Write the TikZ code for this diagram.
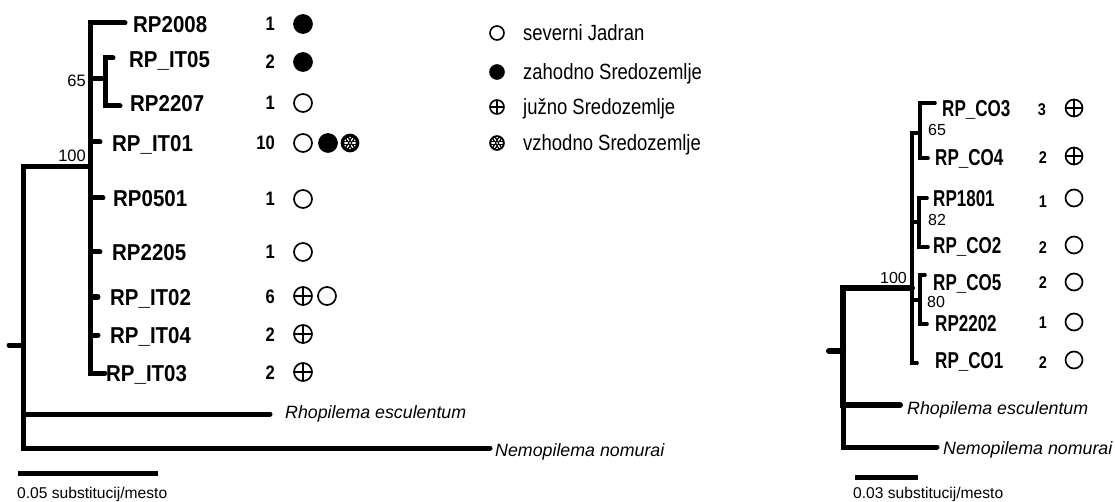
\documentclass[tikz,border=0pt]{standalone}
\usepackage{fontspec}
\setmainfont{Liberation Sans}
\newfontfamily\lblfont[FakeStretch=0.89]{Liberation Sans}
\newfontfamily\cntfont[FakeStretch=0.85]{Liberation Sans}
\newfontfamily\legfont[FakeStretch=0.84]{Liberation Sans}
\newfontfamily\narrowfont[FakeStretch=0.74]{Liberation Sans}
\tikzset{
  treeL/.style={line width=5pt,line cap=round,line join=miter},
  treeR/.style={line width=3.6pt,line cap=round,line join=miter},
  treeRthick/.style={line width=6pt,line cap=round,line join=miter},
  scalebar/.style={line width=5pt},
  leafL/.style={anchor=base west,inner sep=0pt,font=\lblfont\bfseries\fontsize{23}{25}\selectfont},
  leafR/.style={anchor=base west,inner sep=0pt,font=\narrowfont\bfseries\fontsize{23}{25}\selectfont},
  countL/.style={anchor=base east,inner sep=0pt,font=\cntfont\bfseries\fontsize{19.5}{21}\selectfont},
  countR/.style={anchor=base east,inner sep=0pt,font=\cntfont\bfseries\fontsize{17}{19}\selectfont},
  bootL/.style={inner sep=0pt,font=\fontsize{16.5}{18}\selectfont},
  bootR/.style={inner sep=0pt,font=\fontsize{16}{18}\selectfont},
  species/.style={anchor=base west,inner sep=0pt,font=\itshape\fontsize{17.8}{19}\selectfont},
  scaletext/.style={anchor=base west,inner sep=0pt,font=\fontsize{15.6}{17}\selectfont},
  legtext/.style={anchor=base west,inner sep=0pt,font=\legfont\fontsize{22}{24}\selectfont},
  sym/.style={circle,inner sep=0pt,minimum size=18pt,line width=1.7pt,draw},
  opensym/.style={sym},
  fillsym/.style={sym,fill=black},
  plussym/.style={sym,path picture={\draw[line width=1.7pt]
      (path picture bounding box.north) -- (path picture bounding box.south)
      (path picture bounding box.west) -- (path picture bounding box.east);}},
  hatchsym/.style={sym,fill=black,path picture={
      \begin{scope}[shift={(path picture bounding box.center)}]
        \foreach \a in {0,60,...,300}{\draw[white,line width=1.2pt,line cap=round] (\a:2.6pt) -- (\a:5.2pt);}
        \foreach \a in {30,90,...,330}{\fill[white] (\a:5.4pt) circle (0.9pt);}
        \fill[white] (0,0) circle (1pt);
      \end{scope}}},
  legsym/.style={minimum size=14pt,line width=1.6pt},
}
\begin{document}
\begin{tikzpicture}[x=1pt,y=-1pt]
\useasboundingbox (0,0) rectangle (1115,502);

% ---------------- left tree ----------------
\coordinate (Lstub) at (9,345);
\coordinate (Lroot) at (23,345);
\coordinate (LA) at (90,167);
\coordinate (L65) at (105,79);
\coordinate (Lrho) at (270,414);
\coordinate (Lnem) at (490,448);
\coordinate (t2008) at (125,23);
\coordinate (tIT05) at (113,58);
\coordinate (t2207) at (120,106);
\coordinate (tIT01) at (100,142);
\coordinate (t0501) at (103,198);
\coordinate (t2205) at (100,252);
\coordinate (tIT02) at (98,297);
\coordinate (tIT04) at (98,335);
\coordinate (tIT03) at (105,373);

\draw[treeL] (Lstub) -- (Lroot);
\draw[treeL] (Lroot) |- (LA);
\draw[treeL] (Lroot) |- (Lrho);
\draw[treeL] (Lroot) |- (Lnem);
\foreach \t in {t2008,L65,tIT01,t0501,t2205,tIT02,tIT04,tIT03}{\draw[treeL] (LA) |- (\t);}
\draw[treeL] (L65) |- (tIT05);
\draw[treeL] (L65) |- (t2207);

\node[bootL,anchor=base east] (b65L) at (86,87) {65};
\node[bootL,anchor=base east] (b100L) at (86,162) {100};

\node[leafL] (l2008) at (133,32.2) {RP2008};
\node[leafL] (lIT05) at (129,67.2) {RP\_IT05};
\node[leafL] (l2207) at (130,111.2) {RP2207};
\node[leafL] (lIT01) at (112,151.2) {RP\_IT01};
\node[leafL] (l0501) at (113,206.2) {RP0501};
\node[leafL] (l2205) at (112,260.2) {RP2205};
\node[leafL] (lIT02) at (110,305.2) {RP\_IT02};
\node[leafL] (lIT04) at (110,343.2) {RP\_IT04};
\node[leafL] (lIT03) at (106,381.2) {RP\_IT03};

\node[species] (sRhoL) at (285,418.4) {Rhopilema esculentum};
\node[species] (sNemL) at (495,456.4) {Nemopilema nomurai};

\node[countL] (c1) at (275,31) {1};
\node[countL] (c2) at (275,69) {2};
\node[countL] (c3) at (275,110) {1};
\node[countL] (c4) at (275,150) {10};
\node[countL] (c5) at (275,206) {1};
\node[countL] (c6) at (275,259) {1};
\node[countL] (c7) at (275,304) {6};
\node[countL] (c8) at (275,341) {2};
\node[countL] (c9) at (275,379) {2};

\node[fillsym] (s1) at (303,24) {};
\node[fillsym] (s2) at (303,62) {};
\node[opensym] (s3) at (303,103) {};
\node[opensym] (s4a) at (303,143) {};
\node[fillsym] (s4b) at (328,143) {};
\node[hatchsym,minimum size=17pt] (s4c) at (350,143) {};
\node[opensym] (s5) at (303,199) {};
\node[opensym] (s6) at (303,252) {};
\node[plussym] (s7a) at (303,296) {};
\node[opensym] (s7b) at (327,296) {};
\node[plussym] (s8) at (303,334) {};
\node[plussym] (s9) at (303,372) {};

\coordinate (sbL1) at (18,473);
\coordinate (sbL2) at (158,473);
\draw[scalebar] (sbL1) -- (sbL2);
\node[scaletext] (scL) at (17,498.6) {0.05 substitucij/mesto};

% ---------------- legend ----------------
\node[opensym,legsym] (g1) at (497,33) {};
\node[fillsym,legsym] (g2) at (497,72) {};
\node[plussym,legsym] (g3) at (497,107) {};
\node[hatchsym,legsym] (g4) at (497,143) {};
\node[legtext] (gt1) at (523,40.5) {severni Jadran};
\node[legtext] (gt2) at (523,79.5) {zahodno Sredozemlje};
\node[legtext] (gt3) at (523,114.5) {južno Sredozemlje};
\node[legtext] (gt4) at (523,150.5) {vzhodno Sredozemlje};

% ---------------- right tree ----------------
\coordinate (Rstub) at (829,351);
\coordinate (Rroot) at (843,351);
\coordinate (RB) at (912,288);
\coordinate (Rrho) at (900,405);
\coordinate (Rnem) at (937,447);
\coordinate (R65) at (920,133);
\coordinate (R82) at (919,222);
\coordinate (R80) at (920,300);
\coordinate (tCO3) at (935,103);
\coordinate (tCO4) at (928,158);
\coordinate (t1801) at (927,198);
\coordinate (tCO2) at (928,247);
\coordinate (tCO5) at (925,275);
\coordinate (t2202) at (927,324);
\coordinate (tCO1) at (917,363);

\draw[treeRthick] (Rstub) -- (Rroot);
\draw[treeRthick] (Rroot) |- (RB);
\draw[treeRthick] (Rroot) |- (Rrho);
\draw[treeRthick,line width=5pt] (Rroot) |- (Rnem);
\foreach \t in {R65,R82,R80,tCO1}{\draw[treeR] (RB) |- (\t);}
\draw[treeR] (R65) |- (tCO3);
\draw[treeR] (R65) |- (tCO4);
\draw[treeR] (R82) |- (t1801);
\draw[treeR] (R82) |- (tCO2);
\draw[treeR] (R80) |- (tCO5);
\draw[treeR] (R80) |- (t2202);

\node[bootR,anchor=base east] (b100R) at (907,283.7) {100};
\node[bootR,anchor=base west] (b65R) at (928,135.9) {65};
\node[bootR,anchor=base west] (b82R) at (928,225.9) {82};
\node[bootR,anchor=base west] (b80R) at (927,307.9) {80};

\node[leafR] (lCO3) at (942,116.2) {RP\_CO3};
\node[leafR] (lCO4) at (935,165.2) {RP\_CO4};
\node[leafR] (l1801) at (933,206.2) {RP1801};
\node[leafR] (lCO2) at (933,253.2) {RP\_CO2};
\node[leafR] (lCO5) at (933,290.2) {RP\_CO5};
\node[leafR] (l2202) at (935,331.2) {RP2202};
\node[leafR] (lCO1) at (935,368.2) {RP\_CO1};

\node[countR] (d1) at (1046,116) {3};
\node[countR] (d2) at (1047,164) {2};
\node[countR] (d3) at (1047,208) {1};
\node[countR] (d4) at (1047,254) {2};
\node[countR] (d5) at (1047,289) {2};
\node[countR] (d6) at (1047,328) {1};
\node[countR] (d7) at (1047,368) {2};

\node[plussym,minimum size=17pt] (r1) at (1074,108) {};
\node[plussym,minimum size=17pt] (r2) at (1074,156) {};
\node[opensym,minimum size=17pt] (r3) at (1074,198) {};
\node[opensym,minimum size=17pt] (r4) at (1074,245) {};
\node[opensym,minimum size=17pt] (r5) at (1074,282) {};
\node[opensym,minimum size=17pt] (r6) at (1074,322) {};
\node[opensym,minimum size=17pt] (r7) at (1074,360) {};

\node[species] (sRhoR) at (907,414.4) {Rhopilema esculentum};
\node[species] (sNemR) at (943,454.4) {Nemopilema nomurai};

\coordinate (sbR1) at (855,477);
\coordinate (sbR2) at (918,477);
\draw[scalebar] (sbR1) -- (sbR2);
\node[scaletext] (scR) at (853,498.6) {0.03 substitucij/mesto};
\end{tikzpicture}
\end{document}
